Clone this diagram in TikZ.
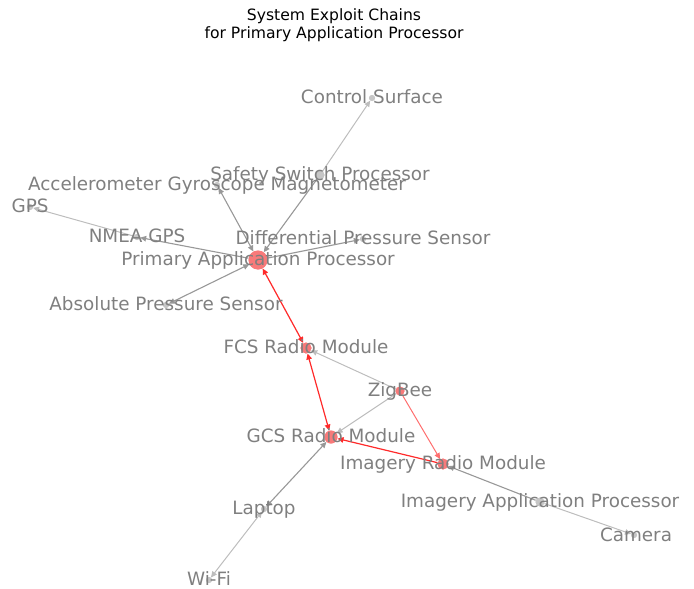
\documentclass[tikz,border=0pt]{standalone}
\usepackage{fontspec}
\setmainfont{DejaVu Sans}
\usetikzlibrary{arrows.meta}
\definecolor{lbl}{HTML}{7F7F7F}
\definecolor{edark}{HTML}{989898}
\definecolor{elight}{HTML}{BDBDBD}
\definecolor{ered}{HTML}{FF2A2A}
\definecolor{eredlight}{HTML}{FF6E6E}
\definecolor{nred}{HTML}{F87A7A}
\definecolor{ngrey}{HTML}{C6C6C6}
\tikzset{
  hot/.style={circle, fill=nred, draw=none, inner sep=0pt, minimum size=#1},
  cold/.style={circle, fill=ngrey, draw=none, inner sep=0pt, minimum size=#1},
  lbltext/.style={text=lbl, font=\fontsize{18.35}{20}\selectfont, anchor=base, inner sep=0pt},
  tip/.style={-{Triangle[length=6pt,width=5.5pt]}},
  biarrow/.style={{Triangle[length=6pt,width=5.5pt]}-{Triangle[length=6pt,width=5.5pt]}},
  gdark/.style={draw=edark, line width=1.1pt},
  glight/.style={draw=elight, line width=1pt},
  rline/.style={draw=ered, line width=1.2pt},
  rlight/.style={draw=eredlight, line width=1pt},
}
\begin{document}
\begin{tikzpicture}[x=1pt,y=-1pt]
\useasboundingbox (0,0) rectangle (694,589);

% graph nodes (dots)
\node[hot=19pt]  (pap)  at (258,260) {};
\node[hot=11pt]  (fcs)  at (306,348) {};
\node[hot=9pt]   (zig)  at (400,391) {};
\node[hot=13pt]  (gcs)  at (331,437) {};
\node[hot=11pt]  (irm)  at (443,464) {};
\node[cold=6pt]  (cs)   at (372,98) {};
\node[cold=9pt]  (ssp)  at (320,175) {};
\node[cold=6pt]  (agm)  at (217,185) {};
\node[cold=6pt]  (gps)  at (30,207) {};
\node[cold=6pt]  (nmea) at (137,237) {};
\node[cold=6pt]  (dps)  at (363,239) {};
\node[cold=6pt]  (aps)  at (166,305) {};
\node[cold=9pt]  (iap)  at (540,502) {};
\node[cold=6pt]  (cam)  at (634,535) {};
\node[cold=6pt]  (lap)  at (264,509) {};
\node[cold=6pt]  (wifi) at (209,580) {};

% connectors
\draw[gdark,tip]    (ssp) -- (pap);
\draw[glight,tip]   (ssp) -- (cs);
\draw[gdark,biarrow] (agm) -- (pap);
\draw[gdark,tip]    (pap) -- (nmea);
\draw[glight,tip]   (nmea) -- (gps);
\draw[gdark,tip]    (pap) -- (dps);
\draw[gdark,biarrow] (aps) -- (pap);
\draw[rline,biarrow] (pap) -- (fcs);
\draw[rline,biarrow] (fcs) -- (gcs);
\draw[glight,tip]   (zig) -- (fcs);
\draw[glight,tip]   (zig) -- (gcs);
\draw[rlight,tip]   (zig) -- (irm);
\draw[rline,tip]    (irm) -- (gcs);
\draw[gdark,tip]    (iap) -- (irm);
\draw[glight,tip]   (iap) -- (cam);
\draw[gdark,biarrow] (lap) -- (gcs);
\draw[glight,biarrow] (wifi) -- (lap);

% redraw dots over connectors, slightly see-through
\foreach \n/\s/\k in {pap/19/hot, fcs/11/hot, zig/9/hot, gcs/13/hot, irm/11/hot,
  cs/6/cold, ssp/9/cold, agm/6/cold, gps/6/cold, nmea/6/cold, dps/6/cold,
  aps/6/cold, iap/9/cold, cam/6/cold, lap/6/cold, wifi/6/cold}
  \node[\k=\s pt, opacity=0.85] at (\n) {};

% labels
\node[lbltext] (tcs)   at ([yshift=-5.5pt]cs)   {Control Surface};
\node[lbltext] (tssp)  at ([yshift=-5.5pt]ssp)  {Safety Switch Processor};
\node[lbltext] (tagm)  at ([yshift=-5.5pt]agm)  {Accelerometer Gyroscope Magnetometer};
\node[lbltext] (tgps)  at ([yshift=-5.5pt]gps)  {GPS};
\node[lbltext] (tnmea) at ([yshift=-5.5pt]nmea) {NMEA GPS};
\node[lbltext] (tdps)  at ([yshift=-5.5pt]dps)  {Differential Pressure Sensor};
\node[lbltext] (tpap)  at ([yshift=-5.5pt]pap)  {Primary Application Processor};
\node[lbltext] (taps)  at ([yshift=-5.5pt]aps)  {Absolute Pressure Sensor};
\node[lbltext] (tfcs)  at ([yshift=-5.5pt]fcs)  {FCS Radio Module};
\node[lbltext] (tzig)  at ([yshift=-5.5pt]zig)  {ZigBee};
\node[lbltext] (tgcs)  at ([yshift=-5.5pt]gcs)  {GCS Radio Module};
\node[lbltext] (tirm)  at ([yshift=-5.5pt]irm)  {Imagery Radio Module};
\node[lbltext] (tiap)  at ([yshift=-5.5pt]iap)  {Imagery Application Processor};
\node[lbltext] (tcam)  at ([xshift=2pt,yshift=-6.5pt]cam)  {Camera};
\node[lbltext] (tlap)  at ([yshift=-5.5pt]lap)  {Laptop};
\node[lbltext] (twifi) at ([yshift=-5.5pt]wifi) {Wi-Fi};

% title
\node[anchor=base, inner sep=0pt, font=\fontsize{15.6}{18}\selectfont] (title1) at (334,20.5) {System Exploit Chains};
\node[anchor=base, inner sep=0pt, font=\fontsize{15.6}{18}\selectfont] (title2) at (334,38.5) {for Primary Application Processor};
\end{tikzpicture}
\end{document}
